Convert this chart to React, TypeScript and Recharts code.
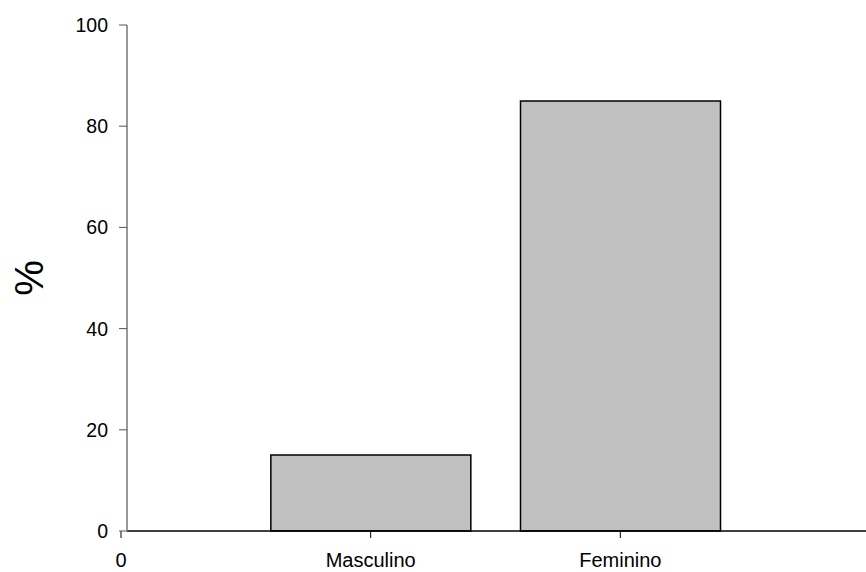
import React from 'react';
import { BarChart, Bar, XAxis, YAxis } from 'recharts';

const categories = ['Masculino', 'Feminino'];
const categoryPositions = [1, 2];
const percentValues = [15, 85];
const xTickValues = [0, 1, 2];
const xTickLabels = ['0', 'Masculino', 'Feminino'];
const yTickValues = [0, 20, 40, 60, 80, 100];

const data = categories.map((name, i) => ({
  name,
  pos: categoryPositions[i],
  value: percentValues[i],
}));

const FONT = 'Liberation Sans, Arial, sans-serif';

const YLabel = (props: any) => {
  const vb = props.viewBox || { x: 0, y: 0, width: 0, height: 0 };
  const cx = vb.x + 29;
  const cy = vb.y + vb.height / 2;
  return (
    <text
      x={cx}
      y={cy}
      transform={`rotate(-90, ${cx}, ${cy})`}
      textAnchor="middle"
      dominantBaseline="central"
      fontFamily={FONT}
      fontSize={40}
      fill="#000"
    >
      %
    </text>
  );
};

export default function App() {
  return (
    <div style={{ position: 'absolute', left: 0, top: 0, background: '#fff' }}>
      <BarChart
        width={866}
        height={572}
        data={data}
        margin={{ top: 25, right: 0, left: 0, bottom: 0 }}
      >
        <XAxis
          dataKey="pos"
          type="number"
          domain={[0, 3]}
          ticks={xTickValues}
          tickFormatter={(v: number) => xTickLabels[xTickValues.indexOf(v)] ?? ''}
          padding={{ left: -6, right: -4 }}
          height={41}
          axisLine={{ stroke: '#000', strokeWidth: 1.5 }}
          tickLine={{ stroke: '#000', strokeWidth: 1 }}
          tickSize={7}
          tickMargin={15}
          tick={{ fill: '#000', fontSize: 20, fontFamily: FONT }}
          allowDataOverflow
          interval={0}
        />
        <YAxis
          type="number"
          domain={[0, 100]}
          ticks={yTickValues}
          width={127}
          axisLine={{ stroke: '#777', strokeWidth: 1.5 }}
          tickLine={{ stroke: '#555', strokeWidth: 1 }}
          tickSize={8}
          tickMargin={11}
          tick={{ fill: '#000', fontSize: 19.5, fontFamily: FONT }}
          label={<YLabel />}
          interval={0}
        />
        <Bar
          dataKey="value"
          fill="#c0c0c0"
          stroke="#000"
          strokeWidth={1.5}
          barSize={200}
          isAnimationActive={false}
        />
      </BarChart>
    </div>
  );
}
